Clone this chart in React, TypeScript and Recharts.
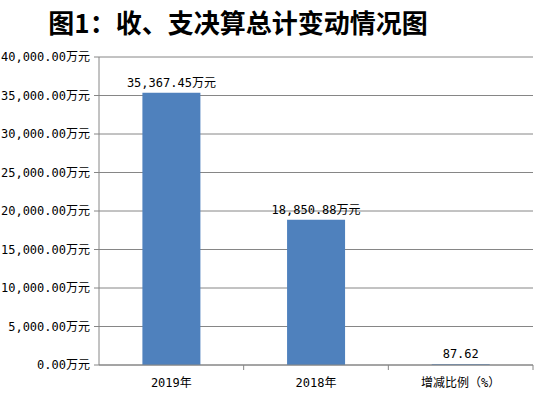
import { Bar, BarChart, CartesianGrid, LabelList, XAxis, YAxis } from "recharts";

const categories = ["2019年", "2018年", "增减比例（%）"];
const values = [35367.45, 18850.88, 87.62];
const units = ["万元", "万元", ""];
const yTicks = [0, 5000, 10000, 15000, 20000, 25000, 30000, 35000, 40000];

const data = categories.map((name, i) => ({ name, value: values[i], unit: units[i] }));

const fmt = (v: number) =>
  v.toLocaleString("en-US", { minimumFractionDigits: 2, maximumFractionDigits: 2 });

const font = "'Noto Sans CJK SC', 'Noto Sans', sans-serif";
const monoFont = "'DejaVu Sans Mono', 'Noto Sans CJK SC', monospace";

// x 轴刻度：标签在中间，刻度线画在类目右边界
function CategoryTick(props: any) {
  const { x, y, payload, width, visibleTicksCount } = props;
  const half = width / visibleTicksCount / 2;
  return (
    <g>
      <line x1={x + half} y1={y} x2={x + half} y2={y + 5} stroke="#868686" />
      <text x={x} y={y + 22} textAnchor="middle" fontSize={12} fill="#000" fontFamily={monoFont}>
        {payload.value}
      </text>
    </g>
  );
}

export default function App() {
  return (
    <div style={{ position: "absolute", left: 0, top: 0, width: 546, height: 395, background: "#fff" }}>
      <div
        style={{
          position: "absolute",
          left: 0,
          top: 5,
          width: 476,
          textAlign: "center",
          fontFamily: font,
          fontWeight: 700,
          fontSize: 26,
          lineHeight: "34px",
          color: "#000",
        }}
      >
        图1：收、支决算总计变动情况图
      </div>
      <BarChart
        width={546}
        height={395}
        data={data}
        margin={{ top: 57, right: 13, bottom: 0, left: 0 }}
        barCategoryGap="30%"
        style={{ fontFamily: font }}
      >
        <CartesianGrid vertical={false} stroke="#868686" />
        <XAxis
          dataKey="name"
          height={30}
          tickSize={0}
          tickMargin={0}
          axisLine={{ stroke: "#868686" }}
          tick={<CategoryTick />}
          interval={0}
        />
        <YAxis
          width={99}
          domain={[0, 40000]}
          ticks={yTicks}
          axisLine={{ stroke: "#868686" }}
          tickLine={{ stroke: "#868686" }}
          tickSize={5}
          tickMargin={4}
          tickFormatter={(v: number) => fmt(v) + "万元"}
          tick={{ fontSize: 12, fill: "#000", fontFamily: monoFont }}
        />
        <Bar dataKey="value" fill="#4F81BD" isAnimationActive={false}>
          <LabelList
            dataKey="value"
            content={(p: any) => {
              const { x, y, width, index } = p;
              return (
                <text x={x + width / 2} y={y - 6} textAnchor="middle" fontSize={12} fill="#000" fontFamily={monoFont}>
                  {fmt(values[index]) + units[index]}
                </text>
              );
            }}
          />
        </Bar>
      </BarChart>
    </div>
  );
}
